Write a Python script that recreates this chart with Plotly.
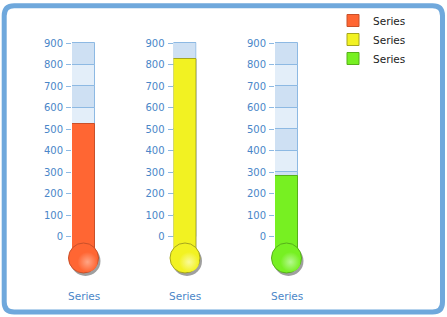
import plotly.graph_objects as go

# ---- data ----
categories = ["Series", "Series", "Series"]
values = [525, 825, 280]
fill_colors = ["#FF6633", "#F2F222", "#77F022"]
edge_colors = ["#C9502A", "#A6A61E", "#56B01A"]
light_colors = ["#FFA585", "#FAFA9A", "#B6F890"]
tick_vals = [0, 100, 200, 300, 400, 500, 600, 700, 800, 900]
tick_text = [str(v) for v in tick_vals]
bulb_value = -100

# ---- layout constants ----
W, H = 447, 317
Y_RANGE = [-374.4, 1100]
tube_px = [(72, 95), (173.5, 196.5), (275, 298)]
px_per_unit_y = H / (Y_RANGE[1] - Y_RANGE[0])
band_dark, band_light = "#CEE0F3", "#E3EEF9"
band_line = "#8DB9E3"
tick_color = "#4A86C8"

fig = go.Figure()
layout_axes = {}
annotations = []

for i, (cat, val) in enumerate(zip(categories, values)):
    n = "" if i == 0 else str(i + 1)
    xa, ya = "x" + n, "y" + n
    x0, x1 = tube_px[i]
    tube_w = x1 - x0
    ux = 1.0 / tube_w            # data units per px (x)
    uy = 1.0 / px_per_unit_y     # data units per px (y)

    # tube background bands
    bases = tick_vals[:-1]
    fig.add_trace(go.Bar(
        x=[0] * len(bases), y=[tick_vals[k + 1] - tick_vals[k] for k in range(len(bases))],
        base=bases, width=1,
        marker=dict(color=[band_dark if k % 2 == 0 else band_light for k in range(len(bases))],
                    line=dict(color=band_line, width=1)),
        xaxis=xa, yaxis=ya, showlegend=False, hoverinfo="skip"))
    # shadow of the fill column
    fig.add_trace(go.Bar(
        x=[0], y=[val - bulb_value], base=[bulb_value], width=1, offset=-0.5 + 2 * ux,
        marker=dict(color="rgba(90,90,90,0.45)", line=dict(width=0)),
        xaxis=xa, yaxis=ya, showlegend=False, hoverinfo="skip"))
    # fill column
    fig.add_trace(go.Bar(
        x=[0], y=[val - bulb_value], base=[bulb_value], width=1, name=cat,
        marker=dict(color=fill_colors[i], line=dict(color=edge_colors[i], width=1)),
        xaxis=xa, yaxis=ya, showlegend=True))
    # bulb shadow
    fig.add_trace(go.Scatter(
        x=[2 * ux], y=[bulb_value - 3 * uy], mode="markers", cliponaxis=False,
        marker=dict(size=30, color="rgba(80,80,80,0.55)", line=dict(width=0)),
        xaxis=xa, yaxis=ya, showlegend=False, hoverinfo="skip"))
    # bulb
    fig.add_trace(go.Scatter(
        x=[0], y=[bulb_value], mode="markers", cliponaxis=False,
        marker=dict(size=30, color=fill_colors[i], line=dict(color=edge_colors[i], width=1)),
        xaxis=xa, yaxis=ya, showlegend=False, hoverinfo="skip"))
    # bulb highlight
    fig.add_trace(go.Scatter(
        x=[4 * ux], y=[bulb_value - 4 * uy], mode="markers", cliponaxis=False,
        marker=dict(size=20, color=fill_colors[i], line=dict(width=0),
                    gradient=dict(type="radial", color=light_colors[i])),
        xaxis=xa, yaxis=ya, showlegend=False, hoverinfo="skip"))

    layout_axes["xaxis" + n] = dict(domain=[x0 / W, x1 / W], range=[-0.5, 0.5], visible=False,
                                    anchor=ya, fixedrange=True)
    layout_axes["yaxis" + n] = dict(domain=[0, 1], range=Y_RANGE, anchor=xa,
                                    tickmode="array", tickvals=tick_vals, ticktext=tick_text,
                                    ticks="outside", ticklen=5, tickcolor=band_line, tickwidth=1,
                                    tickfont=dict(family="DejaVu Sans", size=10, color=tick_color),
                                    ticklabelstandoff=1,
                                    showgrid=False, zeroline=False, showline=False, fixedrange=True)
    annotations.append(dict(x=0, y=1 - 296 / H, xref=xa, yref="paper", text=cat, showarrow=False,
                            xanchor="center", yanchor="middle",
                            font=dict(family="DejaVu Sans", size=10.5, color=tick_color)))

# rounded frame
fx0, fx1, fy0, fy1, r = 4.2, 442.5, 5.8, 312.0, 10.0
def P(x, y):
    return f"{x / W:.5f},{1 - y / H:.5f}"
path = (f"M {P(fx0 + r, fy0)} L {P(fx1 - r, fy0)} Q {P(fx1, fy0)} {P(fx1, fy0 + r)} "
        f"L {P(fx1, fy1 - r)} Q {P(fx1, fy1)} {P(fx1 - r, fy1)} "
        f"L {P(fx0 + r, fy1)} Q {P(fx0, fy1)} {P(fx0, fy1 - r)} "
        f"L {P(fx0, fy0 + r)} Q {P(fx0, fy0)} {P(fx0 + r, fy0)} Z")

fig.update_layout(
    width=W, height=H, autosize=False,
    margin=dict(l=0, r=0, t=0, b=0, pad=0),
    paper_bgcolor="white", plot_bgcolor="rgba(0,0,0,0)",
    barmode="overlay", bargap=0,
    showlegend=True,
    legend=dict(x=333 / W, y=1 - 6 / H, xanchor="left", yanchor="top",
                bgcolor="rgba(0,0,0,0)", borderwidth=0, tracegroupgap=0,
                font=dict(family="DejaVu Sans", size=10.5, color="#222222")),
    shapes=[dict(type="path", path=path, xref="paper", yref="paper",
                 line=dict(color="#6FA8DC", width=5), fillcolor="rgba(0,0,0,0)", layer="below")],
    annotations=annotations,
    **layout_axes,
)

fig.write_html("out.html")
